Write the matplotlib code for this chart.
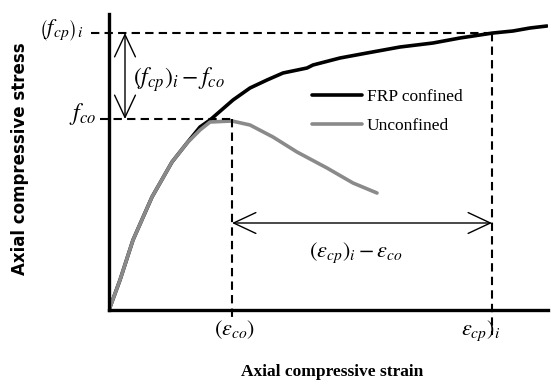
import matplotlib
matplotlib.use("Agg")
import matplotlib.pyplot as plt

plt.rcParams['mathtext.fontset'] = 'stix'

# stress-strain curves (arbitrary units)
strain_frp = [0, 0.11, 0.24, 0.43, 0.63, 0.78, 0.91, 1.01, 1.24, 1.41, 1.58, 1.74,
              1.98, 2.04, 2.31, 2.58, 2.91, 3.24, 3.51, 3.84, 4.04, 4.21, 4.38]
stress_frp = [0, 0.30, 0.70, 1.13, 1.48, 1.67, 1.83, 1.90, 2.10, 2.22, 2.30, 2.37,
              2.42, 2.45, 2.52, 2.57, 2.63, 2.67, 2.72, 2.77, 2.79, 2.82, 2.84]

strain_unc = [0, 0.11, 0.24, 0.43, 0.63, 0.78, 0.91, 1.01, 1.23, 1.41, 1.64, 1.88,
              2.18, 2.44, 2.68]
stress_unc = [0, 0.30, 0.70, 1.13, 1.48, 1.67, 1.80, 1.88, 1.89, 1.85, 1.73, 1.58,
              1.42, 1.27, 1.17]

# characteristic points
f_co = 1.91
eps_co = 1.23
f_cp = 2.77
eps_cp = 3.83

fig = plt.figure(figsize=(5.51, 3.84), dpi=100)
ax = fig.add_axes([109/551, 1 - 310/384, (548 - 109)/551, (310 - 14)/384])
ax.set_xlim(0, 4.39)
ax.set_ylim(0, 2.96)
for s in ['top', 'right']:
    ax.spines[s].set_visible(False)
for s in ['left', 'bottom']:
    ax.spines[s].set_linewidth(2.4)
ax.set_xticks([])
ax.set_yticks([])

l1, = ax.plot(strain_frp, stress_frp, color='black', lw=2.6, solid_capstyle='round')
l2, = ax.plot(strain_unc, stress_unc, color='#8a8a8a', lw=2.6, solid_capstyle='round')

# guide lines
dash = dict(color='black', lw=1.5, dashes=(4, 2.5), clip_on=False)
ax.plot([-0.18, eps_cp], [f_cp, f_cp], **dash)
ax.plot([eps_cp, eps_cp], [f_cp, -0.25], **dash)
ax.plot([-0.09, eps_co], [f_co, f_co], **dash)
ax.plot([eps_co, eps_co], [f_co, -0.10], **dash)

# difference arrows
arr = dict(arrowstyle='<->,head_length=1.6,head_width=0.75', color='black', lw=1.0,
           shrinkA=0, shrinkB=0)
ax.annotate('', xy=(0.16, f_cp), xytext=(0.16, f_co), arrowprops=arr)
ax.annotate('', xy=(eps_co, 0.87), xytext=(eps_cp, 0.87), arrowprops=arr)

mfs = 17
efs = 16
ax.text(0.24, 2.30, r'$\left(f_{cp}\right)_i - f_{co}$', fontsize=mfs, ha='left', va='center')
ax.text(2.47, 0.57, r'$\left(\varepsilon_{cp}\right)_i - \varepsilon_{co}$', fontsize=efs,
        ha='center', va='center')
ax.text(-0.48, 2.80, r'$\left(f_{cp}\right)_i$', fontsize=16, ha='center', va='center',
        clip_on=False)
ax.text(-0.26, 1.96, r'$f_{co}$', fontsize=mfs, ha='center', va='center', clip_on=False)
ax.text(1.26, -0.20, r'$\left(\varepsilon_{co}\right)$', fontsize=efs, ha='center',
        va='center', clip_on=False)
ax.text(3.72, -0.21, r'$\varepsilon_{cp})_i$', fontsize=efs,
        ha='center', va='center', clip_on=False)

ax.text(2.23, -0.62, 'Axial compressive strain', fontsize=12.5, fontweight='bold',
        family='Liberation Serif', ha='center', va='center', clip_on=False)
ax.text(-0.89, 1.51, 'Axial compressive stress', fontsize=12, fontweight='bold',
        family='DejaVu Sans', rotation=90, ha='center', va='center', clip_on=False)

ax.legend([l1, l2], ['FRP confined', 'Unconfined'], frameon=False,
          prop={'family': 'Liberation Serif', 'size': 12.5},
          loc='upper left', bbox_to_anchor=(312/551, 1 - 89/384),
          bbox_transform=fig.transFigure, borderpad=0, borderaxespad=0,
          handlelength=2.9, handletextpad=0.25, labelspacing=0.75)

fig.savefig('out.png', dpi=100)
